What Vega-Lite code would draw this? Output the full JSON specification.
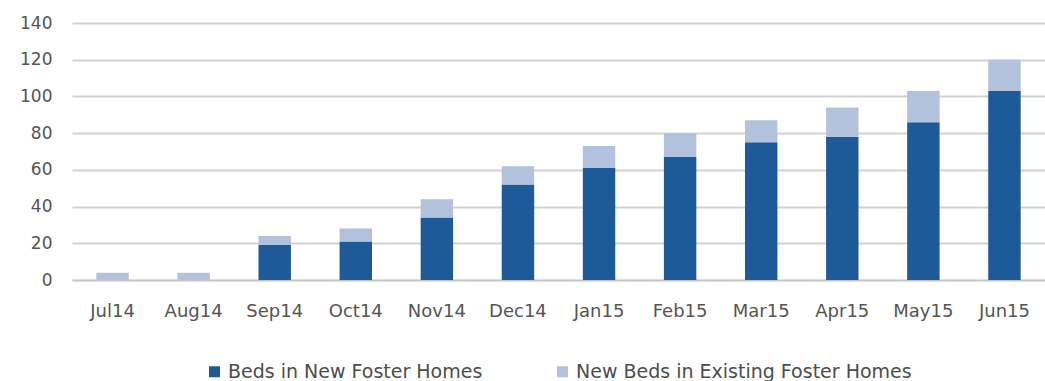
{
  "$schema": "https://vega.github.io/schema/vega-lite/v6.json",
  "width": 973,
  "height": 257,
  "autosize": {"type": "none"},
  "padding": {"left": 72, "top": 23, "right": 0, "bottom": 101},
  "background": "white",
  "data": {
    "values": [
      {"month": "Jul14", "series": "Beds in New Foster Homes", "beds": 0, "k": 1},
      {"month": "Jul14", "series": "New Beds in Existing Foster Homes", "beds": 4, "k": 2},
      {"month": "Aug14", "series": "Beds in New Foster Homes", "beds": 0, "k": 1},
      {"month": "Aug14", "series": "New Beds in Existing Foster Homes", "beds": 4, "k": 2},
      {"month": "Sep14", "series": "Beds in New Foster Homes", "beds": 19, "k": 1},
      {"month": "Sep14", "series": "New Beds in Existing Foster Homes", "beds": 5, "k": 2},
      {"month": "Oct14", "series": "Beds in New Foster Homes", "beds": 21, "k": 1},
      {"month": "Oct14", "series": "New Beds in Existing Foster Homes", "beds": 7, "k": 2},
      {"month": "Nov14", "series": "Beds in New Foster Homes", "beds": 34, "k": 1},
      {"month": "Nov14", "series": "New Beds in Existing Foster Homes", "beds": 10, "k": 2},
      {"month": "Dec14", "series": "Beds in New Foster Homes", "beds": 52, "k": 1},
      {"month": "Dec14", "series": "New Beds in Existing Foster Homes", "beds": 10, "k": 2},
      {"month": "Jan15", "series": "Beds in New Foster Homes", "beds": 61, "k": 1},
      {"month": "Jan15", "series": "New Beds in Existing Foster Homes", "beds": 12, "k": 2},
      {"month": "Feb15", "series": "Beds in New Foster Homes", "beds": 67, "k": 1},
      {"month": "Feb15", "series": "New Beds in Existing Foster Homes", "beds": 13, "k": 2},
      {"month": "Mar15", "series": "Beds in New Foster Homes", "beds": 75, "k": 1},
      {"month": "Mar15", "series": "New Beds in Existing Foster Homes", "beds": 12, "k": 2},
      {"month": "Apr15", "series": "Beds in New Foster Homes", "beds": 78, "k": 1},
      {"month": "Apr15", "series": "New Beds in Existing Foster Homes", "beds": 16, "k": 2},
      {"month": "May15", "series": "Beds in New Foster Homes", "beds": 86, "k": 1},
      {"month": "May15", "series": "New Beds in Existing Foster Homes", "beds": 17, "k": 2},
      {"month": "Jun15", "series": "Beds in New Foster Homes", "beds": 103, "k": 1},
      {"month": "Jun15", "series": "New Beds in Existing Foster Homes", "beds": 17, "k": 2}
    ]
  },
  "mark": {"type": "bar"},
  "encoding": {
    "x": {
      "field": "month", "type": "nominal", "sort": null,
      "scale": {"paddingInner": 0.6, "paddingOuter": 0.3},
      "axis": {"title": null, "labelAngle": 0, "labelFontSize": 18, "labelColor": "#555", "labelPadding": 22,
               "domainColor": "#c8c8c8", "domainWidth": 1.5, "ticks": false, "grid": false}
    },
    "y": {
      "field": "beds", "type": "quantitative", "stack": "zero",
      "scale": {"domain": [0, 140]},
      "axis": {"title": null, "values": [0,20,40,60,80,100,120,140], "labelFontSize": 17, "labelColor": "#555",
               "domain": false, "ticks": false, "labelPadding": 20, "gridColor": "#d2d2d2", "gridWidth": 2}
    },
    "color": {
      "field": "series", "type": "nominal",
      "scale": {"domain": ["Beds in New Foster Homes", "New Beds in Existing Foster Homes"], "range": ["#1f5a98", "#b3c2dc"]},
      "legend": {"title": null, "orient": "bottom", "direction": "horizontal", "symbolType": "square", "symbolSize": 120,
                 "labelFontSize": 19, "labelColor": "#4d4d4d", "labelLimit": 500, "columnPadding": 70, "offset": 42}
    },
    "order": {"field": "k", "type": "quantitative", "sort": "ascending"}
  },
  "config": {
    "font": "DejaVu Sans",
    "view": {"stroke": null},
    "legend": {"layout": {"bottom": {"anchor": "middle"}}}
  }
}
